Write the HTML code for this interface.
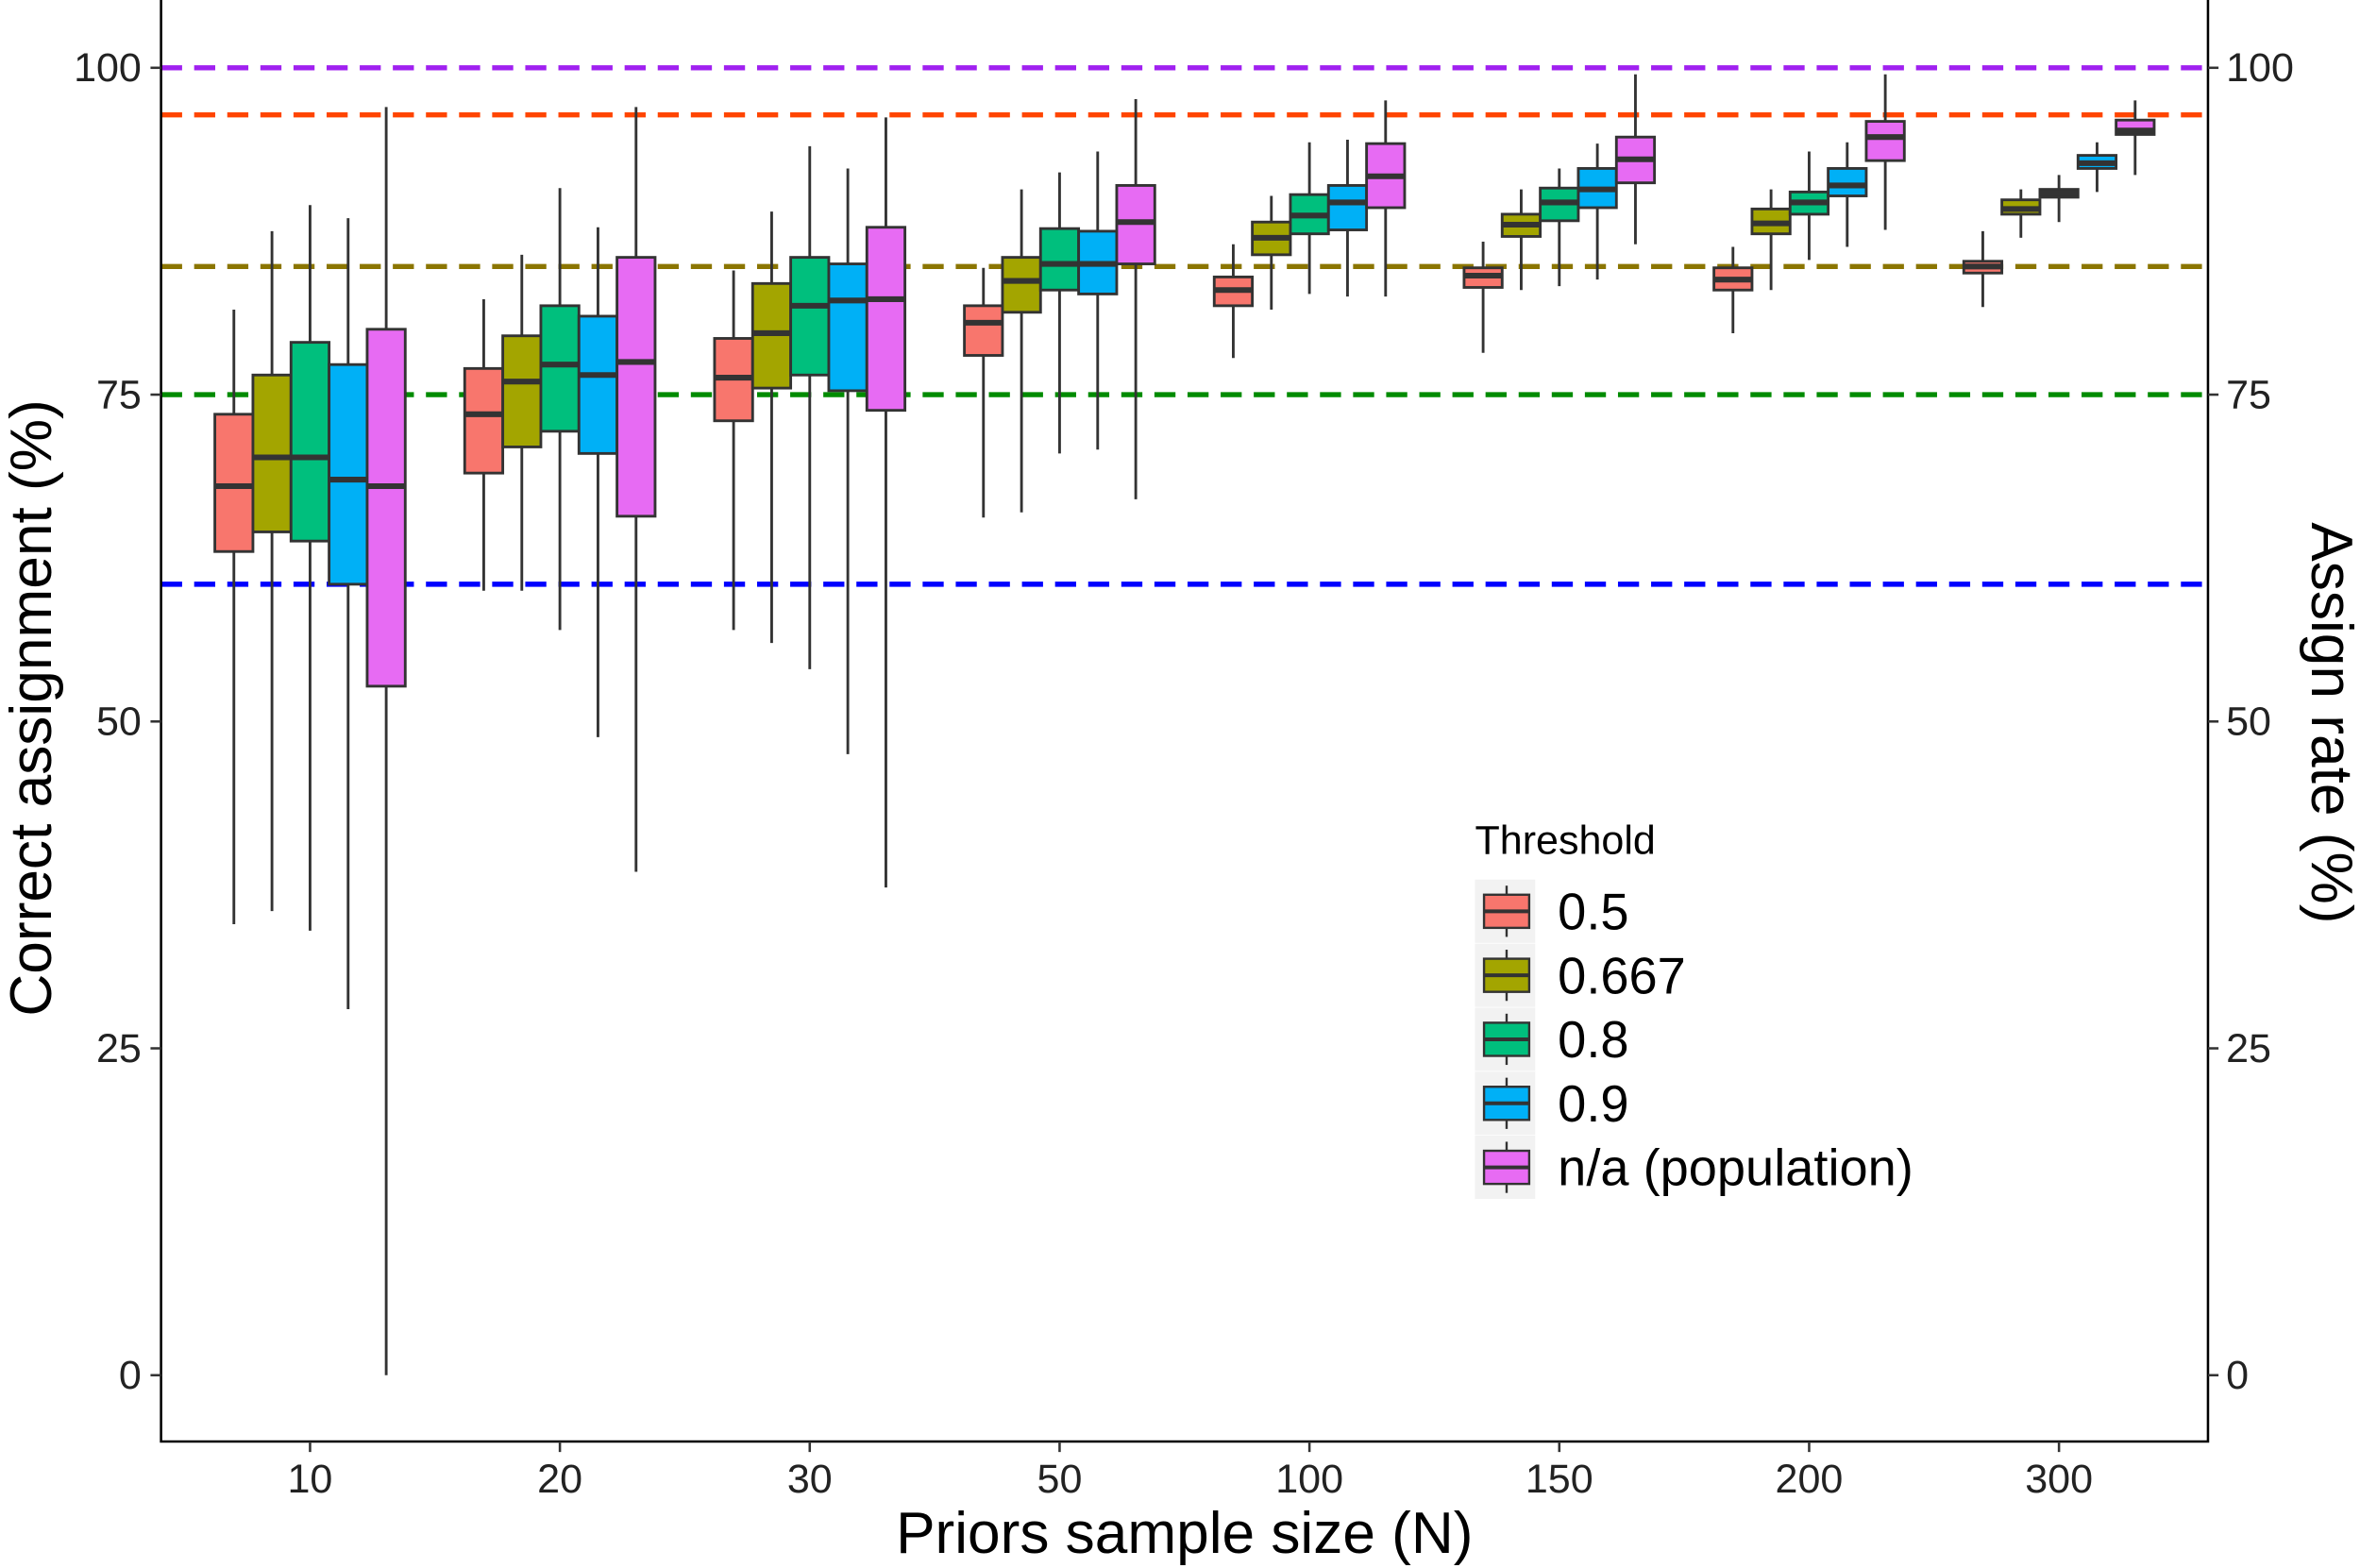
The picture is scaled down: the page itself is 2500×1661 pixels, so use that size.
<!DOCTYPE html>
<html><head><meta charset="utf-8"><style>html,body{margin:0;padding:0;background:#fff}svg{display:block}</style></head>
<body>
<svg id="s" width="2500" height="1661" viewBox="0 0 1568 1041" preserveAspectRatio="none" xmlns="http://www.w3.org/2000/svg" font-family="Liberation Sans, sans-serif">
<rect width="1568" height="1041" fill="#fff"/>
<g id="h"></g>
<g id="b"></g>
<g stroke="#000" stroke-width="1.6" fill="none">
<path d="M107 0V957H1467V0"/>
</g>
<g id="t"></g>
<text x="787" y="1031" font-size="39" text-anchor="middle">Priors sample size (N)</text>
<text transform="translate(34,470) rotate(-90)" font-size="39" text-anchor="middle">Correct assignment (%)</text>
<text transform="translate(1536,480) rotate(90)" font-size="39" text-anchor="middle">Assign rate (%)</text>
<g id="l"></g>
</svg>
<script>
const Y=v=>913-v*8.68;
const cols=["#F8766D","#A3A500","#00BF7D","#00B0F6","#E76BF3"];
let h="";
[[100,"#A020F0"],[96.4,"#FF4500"],[84.8,"#8B7500"],[75,"#008B00"],[60.5,"#0000FF"]].forEach(([v,c])=>{h+=`<line x1="107" x2="1467" y1="${Y(v)}" y2="${Y(v)}" stroke="${c}" stroke-width="3.4" stroke-dasharray="14,8"/>`});
document.getElementById("h").innerHTML=h;
const D=[
[[34.5,81.5,63,68,73.5],[35.5,87.5,64.5,70.2,76.5],[34,89.5,63.8,70.2,79],[28,88.5,60.5,68.5,77.3],[0,97,52.7,68,80]],
[[60,82.3,69,73.5,77],[60,85.7,71,76,79.5],[57,90.8,72.2,77.3,81.8],[48.8,87.8,70.5,76.5,81],[38.5,97,65.7,77.5,85.5]],
[[57,84.5,73,76.3,79.3],[56,89,75.5,79.7,83.5],[54,94,76.5,81.8,85.5],[47.5,92.3,75.3,82.2,85],[37.3,96.2,73.8,82.3,87.8]],
[[65.6,84.7,78,80.5,81.8],[66,90.7,81.3,83.7,85.5],[70.5,92,83,85,87.7],[70.8,93.6,82.7,85,87.5],[67,97.6,85,88.2,91]],
[[77.8,86.5,81.8,83,84],[81.5,90.2,85.7,87,88.2],[82.7,94.3,87.3,88.7,90.3],[82.5,94.5,87.6,89.7,91],[82.5,97.5,89.3,91.7,94.2]],
[[78.2,86.7,83.2,84.1,84.7],[83,90.7,87.1,88,88.8],[83.3,92.3,88.3,89.7,90.8],[83.8,94.2,89.3,90.7,92.3],[86.5,99.5,91.2,93,94.7]],
[[79.7,86.3,83,83.8,84.7],[83,90.7,87.3,88.1,89.2],[85.3,93.6,88.8,89.7,90.5],[86.3,94.3,90.2,91,92.3],[87.6,99.5,92.9,94.7,95.9]],
[[81.7,87.5,84.3,84.8,85.2],[87,90.7,88.8,89.2,89.9],[88.2,91.8,90.1,90.4,90.7],[90.5,94.3,92.3,92.7,93.3],[91.8,97.5,94.9,95.2,96]]];
const labs=["10","20","30","50","100","150","200","300"];
let b="",t="";
D.forEach((g,i)=>{const cx=206+166*i;
 g.forEach((d,j)=>{const x=cx+(j-2)*25.3,w=25.3;
  b+=`<line x1="${x}" x2="${x}" y1="${Y(d[0])}" y2="${Y(d[1])}" stroke="#333" stroke-width="1.8"/>`;
  b+=`<rect x="${x-w/2}" y="${Y(d[4])}" width="${w}" height="${Y(d[2])-Y(d[4])}" fill="${cols[j]}" stroke="#333" stroke-width="1.8"/>`;
  b+=`<line x1="${x-w/2}" x2="${x+w/2}" y1="${Y(d[3])}" y2="${Y(d[3])}" stroke="#333" stroke-width="3.8"/>`;});
 t+=`<line x1="${cx}" x2="${cx}" y1="957" y2="964" stroke="#333" stroke-width="1.6"/><text x="${cx}" y="991" font-size="27" text-anchor="middle" fill="#222">${labs[i]}</text>`;});
[0,25,50,75,100].forEach(v=>{const y=Y(v);
 t+=`<line x1="100" x2="107" y1="${y}" y2="${y}" stroke="#333" stroke-width="1.6"/><line x1="1467" x2="1474" y1="${y}" y2="${y}" stroke="#333" stroke-width="1.6"/>`;
 t+=`<text x="94" y="${y+9}" font-size="27" text-anchor="end" fill="#222">${v}</text><text x="1479" y="${y+9}" font-size="27" fill="#222">${v}</text>`;});
document.getElementById("b").innerHTML=b;document.getElementById("t").innerHTML=t;
let l=`<text x="980" y="567" font-size="27">Threshold</text>`;
["0.5","0.667","0.8","0.9","n/a (population)"].forEach((s,j)=>{const y=605+42.5*j;
 l+=`<rect x="980" y="${y-21}" width="40" height="42" fill="#f2f2f2"/><line x1="1001" x2="1001" y1="${y-17}" y2="${y+17}" stroke="#333" stroke-width="1.5"/><rect x="986" y="${y-11}" width="30" height="22" fill="${cols[j]}" stroke="#333" stroke-width="1.5"/><line x1="986" x2="1016" y1="${y}" y2="${y}" stroke="#333" stroke-width="2.5"/><text x="1035" y="${y+12}" font-size="34">${s}</text>`;});
document.getElementById("l").innerHTML=l;
</script>
</body></html>
